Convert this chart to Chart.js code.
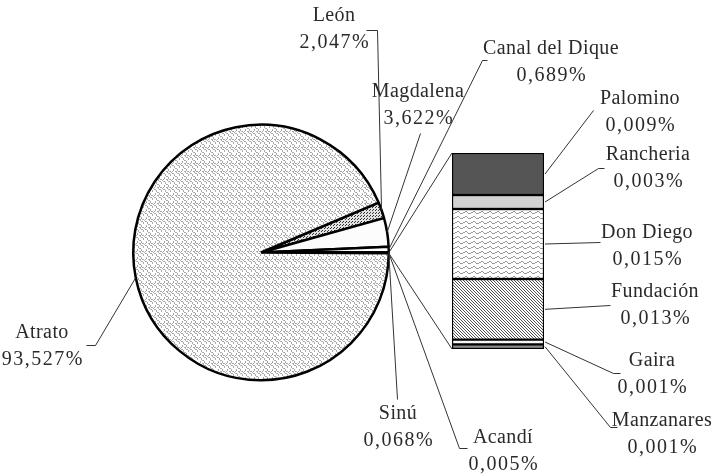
<!DOCTYPE html>
<html><head><meta charset="utf-8">
<script src="https://cdn.jsdelivr.net/npm/chart.js@4"></script>
<style>
html,body{margin:0;padding:0;background:#fff;}
#wrap{position:relative;width:716px;height:474px;overflow:hidden;}
#wrap canvas{position:absolute;left:0;top:0;}
</style></head><body>
<div id="wrap"><canvas id="pie" width="716" height="474"></canvas><canvas id="bar" width="716" height="474"></canvas></div>
<script>
// ---- data ----
const pieLabels = ['León', 'Magdalena', 'Canal del Dique', 'Sinú', 'Acandí', 'Otros', 'Atrato'];
const pieValues = [2.047, 3.622, 0.689, 0.068, 0.005, 0.042, 93.527];
const barLabels = ['Manzanares', 'Gaira', 'Fundación', 'Don Diego', 'Rancheria', 'Palomino'];
const barValues = [0.001, 0.001, 0.013, 0.015, 0.003, 0.009];

// ---- patterns ----
function makePattern(w, h, draw) {
  const c = document.createElement('canvas');
  c.width = w; c.height = h;
  const g = c.getContext('2d');
  draw(g, w, h);
  return g.createPattern(c, 'repeat');
}
const patScales = makePattern(9, 8, (g, w, h) => {
  g.fillStyle = '#ffffff'; g.fillRect(0, 0, w, h);
  g.fillStyle = '#aaaaaa';
  const px = [[0,4],[1,5],[2,5],[3,6],[3,7],[4,0],[5,0],[6,1],[6,2],[7,3],[8,3],
              [4,3],[5,3],[5,4],[6,5],[7,5],[8,6],[2,1],[2,2],[1,3],[8,7]];
  px.forEach(p => g.fillRect(p[0], p[1], 1, 1));
});
const patDots = makePattern(3, 3, (g, w, h) => {
  g.fillStyle = '#e2e2e2'; g.fillRect(0, 0, w, h);
  g.fillStyle = '#333';
  g.fillRect(0, 0, 1, 1); g.fillRect(1, 2, 1, 1);
});
const patWave = makePattern(8, 5, (g, w, h) => {
  g.fillStyle = '#ffffff'; g.fillRect(0, 0, w, h);
  g.fillStyle = '#999999';
  const px = [[0,2],[1,1],[2,1],[3,2],[4,3],[5,3],[6,3],[7,2]];
  px.forEach(p => g.fillRect(p[0], p[1], 1, 1));
});
const patDiag = makePattern(3, 3, (g, w, h) => {
  g.fillStyle = '#ffffff'; g.fillRect(0, 0, w, h);
  g.fillStyle = '#555';
  g.fillRect(0, 0, 1, 1); g.fillRect(1, 1, 1, 1); g.fillRect(2, 2, 1, 1);
});

const pieColors = [patDots, '#fcfcfc', '#ffffff', '#ffffff', '#ffffff', '#ffffff', patScales];
const barColors = ['#888888', '#f6f6f6', patDiag, patWave, '#d2d2d2', '#555555'];

// ---- pie ----
const pieChart = new Chart(document.getElementById('pie'), {
  type: 'pie',
  data: { labels: pieLabels, datasets: [{ data: pieValues, backgroundColor: pieColors, borderColor: '#000', borderWidth: 2.5 }] },
  options: {
    responsive: false, animation: false, rotation: 67,
    layout: { padding: { left: 132, right: 326, top: 123, bottom: 92 } },
    plugins: { legend: { display: false }, tooltip: { enabled: false } }
  }
});

// ---- labels & leader lines ----
const FONT = '20px "Liberation Serif"';
const LINE_GAP = 27;
const labelLayout = {
  'Atrato':          { x: 42,  y: 338, path: [[86, 345], [95, 345]] },
  'León':            { x: 334, y: 21,  path: [[366, 30], [377, 30]] },
  'Magdalena':       { x: 418, y: 97,  path: [[420, 133]] },
  'Canal del Dique': { x: 551, y: 54,  path: [[487, 60], [482, 60]] },
  'Sinú':            { x: 398, y: 419, path: [[397, 399]] },
  'Acandí':          { x: 503, y: 443, path: [[467, 448], [459, 448]] },
  'Palomino':        { x: 640, y: 104, path: [[593, 110]] },
  'Rancheria':       { x: 648, y: 160, path: [[604, 168], [598, 168]] },
  'Don Diego':       { x: 647, y: 238, path: [[600, 242]] },
  'Fundación':       { x: 655, y: 297, path: [[610, 305]] },
  'Gaira':           { x: 652, y: 366, path: [[620, 373], [613, 373]] },
  'Manzanares':      { x: 662, y: 426, path: [[617, 427], [610, 427]] }
};
function fmt(v) { return v.toFixed(3).replace('.', ',') + '%'; }

const overlay = {
  id: 'overlay',
  afterDraw(chart) {
    const ctx = chart.ctx;
    const pm = pieChart.getDatasetMeta(0).data;
    const bm = chart.data.datasets.map((d, i) => chart.getDatasetMeta(i).data[0]);
    ctx.save();
    ctx.strokeStyle = '#333'; ctx.lineWidth = 1;
    function leader(path, tx, ty) {
      ctx.beginPath();
      ctx.moveTo(path[0][0] + 0.5, path[0][1] + 0.5);
      for (let k = 1; k < path.length; k++) ctx.lineTo(path[k][0] + 0.5, path[k][1] + 0.5);
      ctx.lineTo(tx, ty);
      ctx.stroke();
    }
    pm.forEach((el, i) => {
      const L = labelLayout[pieLabels[i]];
      if (!L) return;
      const p = el.getProps(['x', 'y', 'startAngle', 'endAngle', 'outerRadius']);
      const a = (p.startAngle + p.endAngle) / 2;
      leader(L.path, p.x + Math.cos(a) * p.outerRadius, p.y + Math.sin(a) * p.outerRadius);
    });
    const oi = pieLabels.indexOf('Otros');
    const o = pm[oi].getProps(['x', 'y', 'startAngle', 'endAngle', 'outerRadius']);
    const top = bm[bm.length - 1].getProps(['x', 'y', 'base', 'width']);
    const bot = bm[0].getProps(['x', 'y', 'base', 'width']);
    ctx.beginPath();
    ctx.moveTo(o.x + Math.cos(o.startAngle) * o.outerRadius, o.y + Math.sin(o.startAngle) * o.outerRadius);
    ctx.lineTo(top.x - top.width / 2, top.y);
    ctx.moveTo(o.x + Math.cos(o.endAngle) * o.outerRadius, o.y + Math.sin(o.endAngle) * o.outerRadius);
    ctx.lineTo(bot.x - bot.width / 2, bot.base);
    ctx.stroke();
    bm.forEach((el, i) => {
      const L = labelLayout[barLabels[i]];
      const p = el.getProps(['x', 'y', 'base', 'width']);
      leader(L.path, p.x + p.width / 2 + 1, (p.y + p.base) / 2);
    });
    ctx.fillStyle = '#2a2a2a';
    ctx.font = FONT;
    ctx.textAlign = 'center';
    ctx.textBaseline = 'alphabetic';
    const all = pieLabels.map((n, i) => [n, pieValues[i]]).concat(barLabels.map((n, i) => [n, barValues[i]]));
    all.forEach(([n, v]) => {
      const L = labelLayout[n];
      if (!L) return;
      ctx.letterSpacing = '0.4px';
      ctx.fillText(n, L.x, L.y);
      ctx.letterSpacing = '1.5px';
      ctx.fillText(fmt(v), L.x + 0.75, L.y + LINE_GAP);
    });
    ctx.restore();
  }
};

const barChart = new Chart(document.getElementById('bar'), {
  type: 'bar',
  data: {
    labels: ['Otros'],
    datasets: barLabels.map((n, i) => ({
      label: n, data: [barValues[i]], backgroundColor: barColors[i],
      borderColor: '#000', borderWidth: 1.5, borderSkipped: false
    }))
  },
  options: {
    responsive: false, animation: false,
    layout: { padding: { left: 452, right: 172, top: 153, bottom: 125 } },
    datasets: { bar: { barPercentage: 1, categoryPercentage: 1 } },
    scales: {
      x: { stacked: true, display: false },
      y: { stacked: true, display: false, min: 0, max: barValues.reduce((s, v) => s + v, 0) }
    },
    plugins: { legend: { display: false }, tooltip: { enabled: false } }
  },
  plugins: [overlay]
});
</script>
</body></html>
